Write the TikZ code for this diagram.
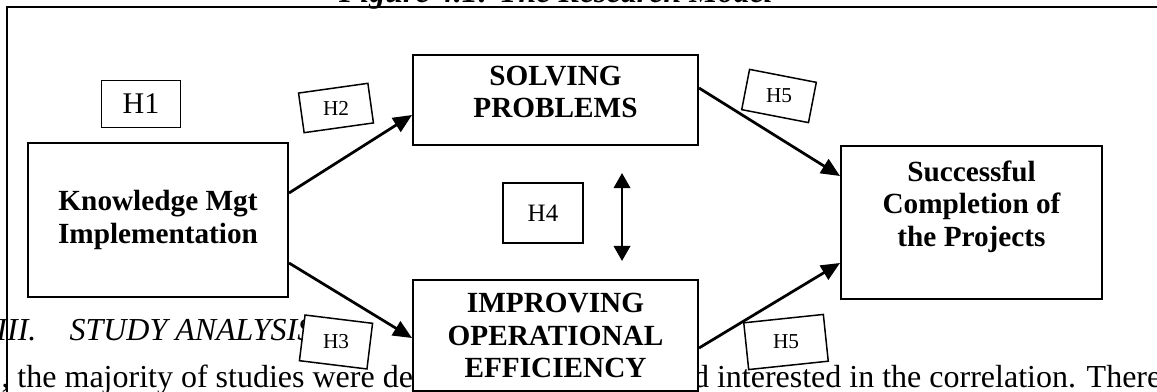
\documentclass[tikz,border=0pt]{standalone}
\usepackage{fontspec}
\setmainfont{Liberation Serif}
\usetikzlibrary{arrows.meta}
\newcommand{\lift}[2]{\raisebox{#1}[\height][\depth]{\begin{tabular}{@{}c@{}}#2\end{tabular}}}

\begin{document}
\begin{tikzpicture}[x=0.4pt,y=-0.4pt,>={Triangle[length=7.5pt,width=6.5pt]},
  b/.style={draw,line width=0.8pt,fill=white,align=center,inner sep=0pt,font=\fontsize{11.7}{13}\selectfont\bfseries},
  h/.style={draw,line width=0.6pt,fill=white,inner sep=0pt,font=\fontsize{8.5}{10}\selectfont},
  txt/.style={inner sep=0pt,font=\fontsize{12.8}{15}\selectfont#1},txt/.default={},
  a/.style={->,line width=1.1pt}]
  \useasboundingbox (0,0) rectangle (1157,392);
  % page text around the figure
  \node[txt=\bfseries\itshape,anchor=base](title) at (556,3){Figure 4.1: The Research Model};
  \node[txt=\itshape,anchor=base west](secno) at (-4,340){III.};
  \node[txt=\itshape,anchor=base west](sec) at (69,340){STUDY ANALYSIS};
  \node[txt,anchor=base west](parl) at (1,387){, the majority of studies were de};
  \node[txt,anchor=base west](parr) at (692.5,387){d interested in the correlation. There};
  \draw[line width=1pt](7,395)--(7,7)--(1160,7);
  % constructs
  \node[b,minimum width=104pt,minimum height=61.6pt](km) at (158,220){Knowledge Mgt\\Implementation};
  \node[b,minimum width=114pt,minimum height=36pt](sp) at (555.5,100){\lift{2pt}{SOLVING\\PROBLEMS}};
  \node[b,minimum width=114pt,minimum height=44.4pt](ioe) at (555.5,335.5){IMPROVING\\OPERATIONAL\\EFFICIENCY};
  \node[b,minimum width=104.4pt,minimum height=61.2pt](sc) at (971.5,222.5){\lift{6pt}{Successful\\Completion of\\the Projects}};
  % hypotheses
  \node[h,font=\fontsize{12}{14}\selectfont,minimum width=31.6pt,minimum height=18.8pt](h1) at (141,104){H1};
  \node[h,rotate=8,minimum width=28pt,minimum height=16pt](h2) at (336,108){\rotatebox{-8}{H2}};
  \node[h,rotate=-7,minimum width=27.2pt,minimum height=18.4pt](h3) at (336,342){\rotatebox{7}{H3}};
  \node[h,font=\fontsize{10}{12}\selectfont,minimum width=32pt,minimum height=24pt](h4) at (543,213){H4};
  \node[h,rotate=-11,minimum width=27.2pt,minimum height=16.4pt](h5a) at (779,96){\rotatebox{11}{H5}};
  \node[h,rotate=6,minimum width=32pt,minimum height=18.8pt](h5b) at (786,342){\rotatebox{-6}{H5}};
  % paths
  \draw[a]([yshift=10.8pt]km.east)--([yshift=-6pt]sp.west);
  \draw[a]([yshift=-17.2pt]km.east)--([yshift=-1pt]ioe.west);
  \draw[a]([yshift=4.8pt]sp.east)--([yshift=18.6pt]sc.west);
  \draw[a]([yshift=-5pt]ioe.east)--([yshift=-16.2pt]sc.west);
  \draw[<->,line width=1.1pt,>={Triangle[length=6pt,width=6.5pt]}]([xshift=26.6pt,yshift=-10.8pt]sp.south)--([xshift=26.6pt,yshift=7.2pt]ioe.north);
\end{tikzpicture}
\end{document}
